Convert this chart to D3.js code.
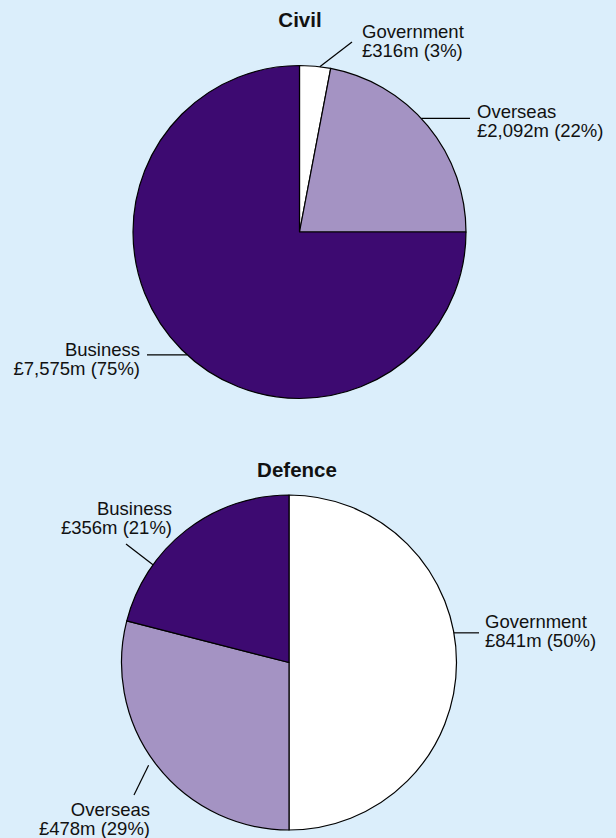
<!DOCTYPE html>
<html>
<head>
<meta charset="utf-8">
<script src="https://cdn.jsdelivr.net/npm/d3@7"></script>
<style>
  html, body { margin: 0; padding: 0; background: #dbeefb; }
  svg { display: block; }
  text { font-family: "Liberation Sans", Arial, sans-serif; fill: #111; }
</style>
</head>
<body>
<svg id="chart" width="616" height="838"></svg>
<script>
// Spending by sector, £m, with share of each total (%)
const civilCategories = ["Government", "Overseas", "Business"];
const civilValues = [316, 2092, 7575];
const civilShares = [3, 22, 75];

const defenceCategories = ["Government", "Overseas", "Business"];
const defenceValues = [841, 478, 356];
const defenceShares = [50, 29, 21];

const sectorColours = { Government: "#ffffff", Overseas: "#a493c3", Business: "#3d0a71" };

// Label placement: leader starts at an angle (deg, clockwise from 12 o'clock)
// just outside the rim and runs to an end offset from the pie centre.
const civilLabels = [
  { angle: 7.0,   gap: 0,  ex: 52.5,   ey: -190,  tx: 62.5,  ty: -194,  anchor: "start" },
  { angle: 47.0,  gap: 0,  ex: 170.5,  ey: null,  tx: 177.5, ty: -114.5, anchor: "start" },
  { angle: 222.4, gap: 0,  ex: -152.5, ey: null,  tx: -159.5, ty: 124,  anchor: "end" }
];
const defenceLabels = [
  { angle: 79.8,  gap: 0,  ex: 190,    ey: null,  tx: 196,   ty: -34.5, anchor: "start" },
  { angle: 233.8, gap: 6.5, ex: -155,  ey: 132.5, tx: -139,  ty: 153.5, anchor: "end" },
  { angle: 305.7, gap: 0,  ex: -163,   ey: -118.5, tx: -117, ty: -147.5, anchor: "end" }
];

const svg = d3.select("#chart");
const fmt = d3.format(",");

function drawPie(opts) {
  const { title, cats, values, shares, labels, cx, cy, r, titleY } = opts;
  const data = cats.map((c, i) => ({ cat: c, value: values[i], share: shares[i] }));

  const g = svg.append("g").attr("transform", `translate(${cx},${cy})`);

  svg.append("text")
    .attr("x", opts.titleX)
    .attr("y", titleY)
    .attr("text-anchor", "middle")
    .style("font-weight", "bold")
    .style("font-size", "20.5px")
    .text(title);

  const pie = d3.pie().sort(null).value(d => d.share);
  const arc = d3.arc().innerRadius(0).outerRadius(r);

  g.selectAll("path.slice")
    .data(pie(data))
    .join("path")
    .attr("class", "slice")
    .attr("d", arc)
    .attr("fill", d => sectorColours[d.data.cat])
    .attr("stroke", "#000")
    .attr("stroke-width", 1.2)
    .attr("stroke-linejoin", "round");

  data.forEach((d, i) => {
    const L = labels[i];
    const a = L.angle * Math.PI / 180;
    const rr = r + L.gap;
    const sx = rr * Math.sin(a);
    const sy = -rr * Math.cos(a);
    const ey = L.ey === null ? sy : L.ey;

    g.append("line")
      .attr("x1", sx).attr("y1", sy)
      .attr("x2", L.ex).attr("y2", ey)
      .attr("stroke", "#000")
      .attr("stroke-width", 1.2);

    const t = g.append("text")
      .attr("text-anchor", L.anchor)
      .style("font-size", "18.5px");
    t.append("tspan").attr("x", L.tx).attr("y", L.ty).text(d.cat);
    t.append("tspan").attr("x", L.tx).attr("y", L.ty + 19)
      .text(`£${fmt(d.value)}m (${d.share}%)`);
  });
}

drawPie({
  title: "Civil", cats: civilCategories, values: civilValues, shares: civilShares,
  labels: civilLabels, cx: 299.5, cy: 232, r: 166.5, titleX: 300, titleY: 26.5
});

drawPie({
  title: "Defence", cats: defenceCategories, values: defenceValues, shares: defenceShares,
  labels: defenceLabels, cx: 289, cy: 662.5, r: 167.5, titleX: 297, titleY: 476.5
});
</script>
</body>
</html>
